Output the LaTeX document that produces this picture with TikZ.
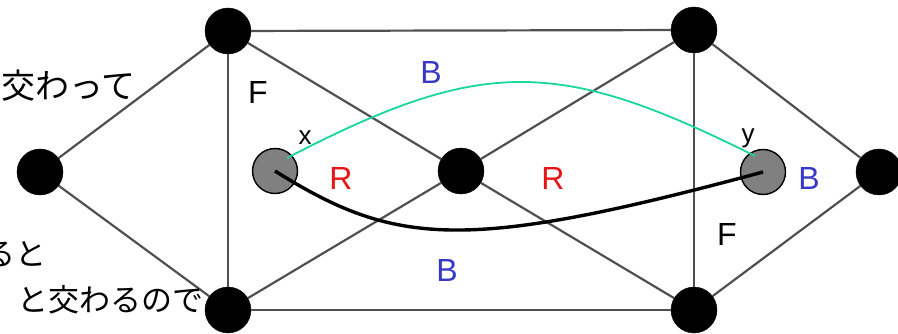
\documentclass[tikz,border=0pt]{standalone}
\usepackage{fontspec}
\setmainfont{Liberation Sans}
\newfontfamily\jpfont{Noto Sans CJK JP}
\usetikzlibrary{calc}
\definecolor{edgegray}{RGB}{80,80,80}
\definecolor{lblue}{RGB}{55,55,200}
\definecolor{lred}{RGB}{235,20,20}
\definecolor{lgreen}{RGB}{25,215,155}
\definecolor{ngray}{RGB}{128,128,128}
\tikzset{
  bnode/.style={circle, fill=black, draw=black, minimum size=46pt, inner sep=0pt},
  gnode/.style={circle, fill=ngray, draw=black, line width=1.4pt, minimum size=45pt, inner sep=0pt},
  edge/.style={draw=edgegray, line width=2.2pt},
  lbl/.style={font=\fontsize{32}{36}\selectfont, inner sep=0pt},
  small/.style={font=\fontsize{26}{30}\selectfont, inner sep=0pt},
  jp/.style={font=\jpfont\fontsize{31}{38}\selectfont, inner sep=0pt, anchor=east},
  jpbig/.style={font=\jpfont\fontsize{34}{40}\selectfont, inner sep=0pt, anchor=east},
}
\begin{document}
\begin{tikzpicture}[x=1pt,y=-1pt]
\useasboundingbox (0,0) rectangle (898,334);
% nodes
\node[bnode] (tl) at (228,31) {};
\node[bnode] (tr) at (694,30) {};
\node[bnode] (l) at (40,172) {};
\node[bnode] (c) at (461,171) {};
\node[bnode] (r) at (879,172) {};
\node[bnode] (bl) at (228,310) {};
\node[bnode] (br) at (694,310) {};
\node[gnode] (xn) at (275,171) {};
\node[gnode] (yn) at (763,172) {};
% edges
\draw[edge] (l) -- (tl);
\draw[edge] (l) -- (bl);
\draw[edge] (tl) -- (tr);
\draw[edge] (bl) -- (br);
\draw[edge] (tl) -- (bl);
\draw[edge] (tr) -- (br);
\draw[edge] (tr) -- (r);
\draw[edge] (br) -- (r);
\draw[edge] (tl) -- (c);
\draw[edge] (c) -- (br);
\draw[edge] (bl) -- (c);
\draw[edge] (c) -- (tr);
% curves
\draw[black, line width=3.4pt] (xn.center) .. controls (395,246) and (463,253) .. (yn.center);
\draw[lgreen, line width=1.8pt] ($(xn.center)+(12,-13)$) .. controls (483,56) and (559,58) .. ($(yn.center)+(-8,-16)$);
% labels
\node[lbl] (f1) at (258,92) {F};
\node[lbl, text=lblue] (b1) at (431,72) {B};
\node[small] (xl) at (305,138) {x};
\node[small] (yl) at (748,138) {y};
\node[lbl, text=lred] (r1) at (341,178) {R};
\node[lbl, text=lred] (r2) at (553,178) {R};
\node[lbl, text=lblue] (b2) at (809,178) {B};
\node[lbl] (f2) at (727,234) {F};
\node[lbl, text=lblue] (b3) at (447,270) {B};
% japanese text
\node[jpbig] (t1) at (136,86) {交わって};
\node[jp] (t2) at (47,254) {ると};
\node[jp] (t3) at (204,300) {と交わるので};
\end{tikzpicture}
\end{document}
